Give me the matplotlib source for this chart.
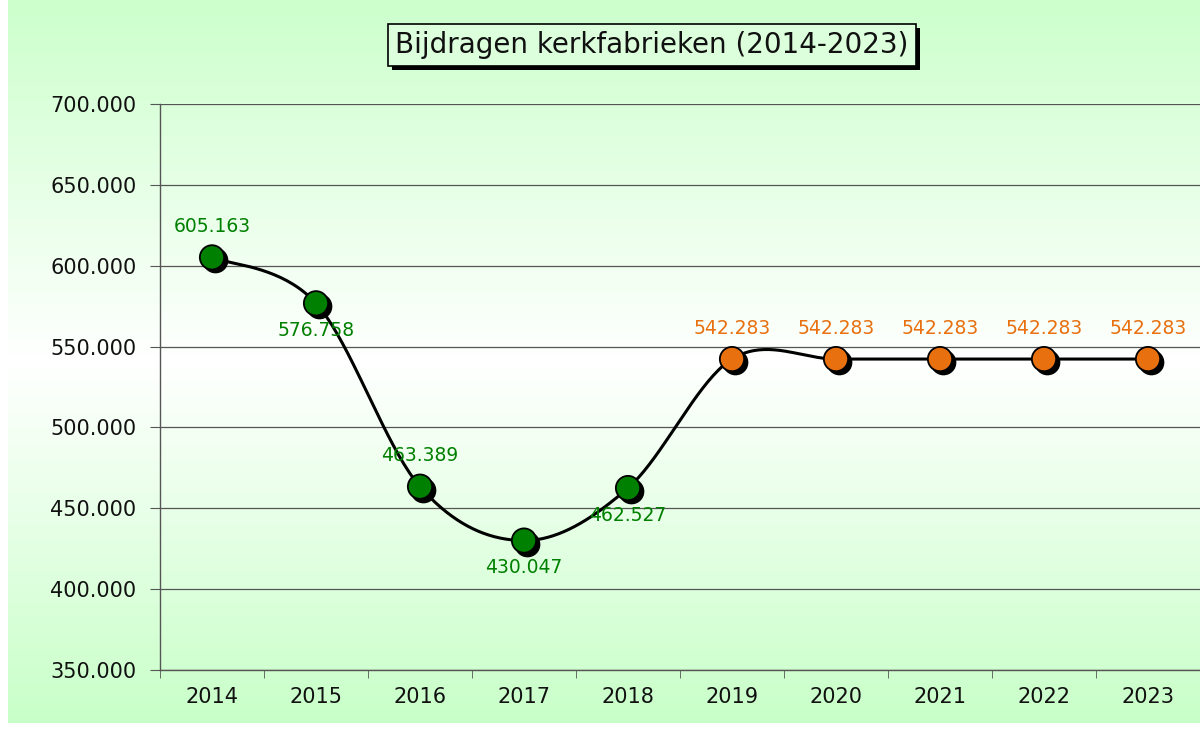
import numpy as np
import matplotlib.pyplot as plt
from matplotlib.colors import LinearSegmentedColormap
from matplotlib.transforms import offset_copy
from matplotlib.ticker import FuncFormatter, FixedLocator
from matplotlib.patches import Rectangle

# data
years = ['2014', '2015', '2016', '2017', '2018', '2019', '2020', '2021', '2022', '2023']
values = [605163, 576758, 463389, 430047, 462527, 542283, 542283, 542283, 542283, 542283]
label_pos = ['above', 'below', 'above', 'below', 'below',
             'above', 'above', 'above', 'above', 'above']
n_actual = 5  # first five green, rest orange

green = '#008000'
orange = '#E8700F'

fig = plt.figure(figsize=(12, 7.31), dpi=100)
fig.patch.set_facecolor('white')

# gradient background (green - white - green)
bg = fig.add_axes([8 / 1200, 8 / 731, 1 - 8 / 1200, 1 - 8 / 731], zorder=0)
cmap = LinearSegmentedColormap.from_list(
    'bg', [(0.0, '#c8ffc8'), (0.5, '#ffffff'), (1.0, '#ccffcc')])
grad = np.linspace(0, 1, 256).reshape(-1, 1)
bg.imshow(grad, aspect='auto', cmap=cmap, extent=[0, 1, 0, 1], origin='lower')
bg.axis('off')

ax = fig.add_axes([160 / 1200, 1 - 670 / 731, 1 - 160 / 1200, (670 - 104) / 731], zorder=1)
ax.patch.set_alpha(0)

x = np.arange(len(values))
y = np.array(values, dtype=float)

# excel style smoothed line (bezier with 1/6 tangents)
sx, sy = [], []
for i in range(len(x) - 1):
    p0 = np.array([x[max(i - 1, 0)], y[max(i - 1, 0)]])
    p1 = np.array([x[i], y[i]])
    p2 = np.array([x[i + 1], y[i + 1]])
    p3 = np.array([x[min(i + 2, len(x) - 1)], y[min(i + 2, len(x) - 1)]])
    c1 = p1 + (p2 - p0) / 6
    c2 = p2 - (p3 - p1) / 6
    t = np.linspace(0, 1, 40)[:, None]
    pts = (1 - t) ** 3 * p1 + 3 * (1 - t) ** 2 * t * c1 + 3 * (1 - t) * t ** 2 * c2 + t ** 3 * p2
    sx.extend(pts[:, 0])
    sy.extend(pts[:, 1])
ax.plot(sx, sy, color='black', lw=2.2, zorder=3, solid_capstyle='round')

colors = [green] * n_actual + [orange] * (len(values) - n_actual)
shadow = offset_copy(ax.transData, fig=fig, x=3, y=-3, units='dots')
ax.scatter(x, y, s=17.5 ** 2, color='black', transform=shadow, zorder=4)
ax.scatter(x, y, s=17.5 ** 2, c=colors, edgecolors='black', linewidths=1.3, zorder=5)

for xi, yi, c, pos in zip(x, y, colors, label_pos):
    txt = f'{int(yi):,}'.replace(',', '.')
    dy = 31 if pos == 'above' else -27
    ax.annotate(txt, (xi, yi), xytext=(0, dy), textcoords='offset pixels',
                ha='center', va='center', color=c, fontsize=13.5, zorder=6)

ax.set_xlim(-0.5, len(values) - 0.5)
ax.set_ylim(350000, 700000)
ax.set_yticks(np.arange(350000, 700001, 50000))
ax.yaxis.set_major_formatter(FuncFormatter(lambda v, p: f'{int(v):,}'.replace(',', '.')))
ax.grid(axis='y', color='#555555', lw=0.9)
ax.set_axisbelow(True)

ax.set_xticks(x)
ax.set_xticklabels(years)
ax.xaxis.set_minor_locator(FixedLocator(np.arange(-0.5, len(values), 1)))
ax.tick_params(axis='x', which='major', length=0, pad=12, labelsize=15, colors='#111111')
ax.tick_params(axis='x', which='minor', length=6, direction='out', color='#555555')
ax.tick_params(axis='y', length=7, direction='out', pad=10, labelsize=15,
               color='#555555', labelcolor='#111111')

for s in ['top', 'right']:
    ax.spines[s].set_visible(False)
for s in ['left', 'bottom']:
    ax.spines[s].set_color('#555555')
    ax.spines[s].set_linewidth(1.0)

# title with shadow box
title = 'Bijdragen kerkfabrieken (2014-2023)'
t = fig.text(652 / 1200, 1 - 45 / 731, title, ha='center', va='center', fontsize=20,
             color='#111111', zorder=10,
             bbox=dict(boxstyle='square,pad=0.25', fc='#dcffdc', ec='black', lw=1.2))
fig.canvas.draw()
bb = t.get_bbox_patch().get_window_extent().transformed(fig.transFigure.inverted())
fig.patches.append(Rectangle((bb.x0 + 4 / 1200, bb.y0 - 4 / 731), bb.width, bb.height,
                             transform=fig.transFigure, fc='black', ec='none', zorder=9))

fig.savefig('out.png', dpi=100)
